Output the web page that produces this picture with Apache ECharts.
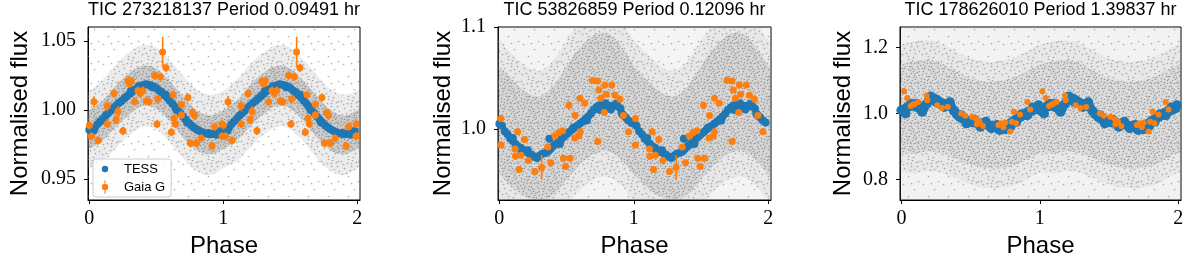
<!DOCTYPE html>
<html><head><meta charset="utf-8">
<script src="https://cdn.jsdelivr.net/npm/echarts@6/dist/echarts.min.js"></script>
<style>html,body{margin:0;padding:0;background:#fff}#c{width:1200px;height:270px}</style>
</head><body><div id="c"></div>
<script>
// ---------- texts & ticks ----------
const titles = ['TIC 273218137 Period 0.09491 hr', 'TIC 53826859 Period 0.12096 hr', 'TIC 178626010 Period 1.39837 hr'];
const xLabel = 'Phase';
const yLabel = 'Normalised flux';
const phaseTicks = [0, 1, 2];
const yTicks1 = [0.95, 1.00, 1.05];
const yTicks2 = [1.0, 1.1];
const yTicks3 = [0.8, 1.0, 1.2];
const yRange1 = [0.935, 1.06];
const yRange2 = [0.93, 1.1];
const yRange3 = [0.737, 1.263];

// ---------- grey cloud envelopes (phase 0..0.9, repeats every 1 in phase) ----------
const greyPhase = [0.0, 0.1, 0.2, 0.3, 0.4, 0.5, 0.6, 0.7, 0.8, 0.9];
const p1GreyInLo  = [0.972, 0.978, 0.988, 0.997, 1.003, 1.001, 0.992, 0.980, 0.971, 0.968];
const p1GreyInHi  = [1.000, 1.007, 1.018, 1.027, 1.032, 1.030, 1.021, 1.010, 1.000, 0.996];
const p1GreyOutLo = [0.958, 0.963, 0.973, 0.982, 0.988, 0.986, 0.977, 0.965, 0.956, 0.953];
const p1GreyOutHi = [1.014, 1.022, 1.033, 1.042, 1.047, 1.045, 1.036, 1.025, 1.015, 1.011];
const p2GreyInLo  = [0.955, 0.942, 0.933, 0.930, 0.935, 0.950, 0.965, 0.975, 0.978, 0.970];
const p2GreyInHi  = [1.062, 1.048, 1.036, 1.032, 1.042, 1.062, 1.080, 1.092, 1.094, 1.082];
const p2GreyOutLo = [0.930, 0.920, 0.910, 0.905, 0.910, 0.925, 0.940, 0.950, 0.953, 0.945];
const p2GreyOutHi = [1.087, 1.073, 1.061, 1.057, 1.067, 1.087, 1.105, 1.117, 1.119, 1.107];
const p3GreyInLo  = [0.880, 0.878, 0.885, 0.878, 0.862, 0.845, 0.835, 0.833, 0.840, 0.858];
const p3GreyInHi  = [1.150, 1.160, 1.162, 1.150, 1.128, 1.108, 1.098, 1.098, 1.108, 1.128];
const p3GreyOutLo = [0.820, 0.818, 0.825, 0.818, 0.802, 0.785, 0.775, 0.773, 0.780, 0.798];
const p3GreyOutHi = [1.210, 1.220, 1.222, 1.210, 1.188, 1.168, 1.158, 1.158, 1.168, 1.188];

// ---------- TESS (phase 0..1, plotted again at phase+1) ----------
const p1TessPhase = [0.00,0.02,0.04,0.06,0.08,0.10,0.12,0.14,0.16,0.18,0.20,0.22,0.24,0.26,0.28,0.30,0.32,0.34,0.36,0.38,
  0.40,0.42,0.44,0.46,0.48,0.50,0.52,0.54,0.56,0.58,0.60,0.62,0.64,0.66,0.68,0.70,0.72,0.74,0.76,0.78,
  0.80,0.82,0.84,0.86,0.88,0.90,0.92,0.94,0.96,0.98, 0.03,0.31,0.37,0.47,0.57,0.65,0.73,0.89,0.95];
const p1TessFlux = [0.9858,0.9862,0.9868,0.9898,0.9918,0.9936,0.9958,0.9976,0.9994,1.0014,
  1.0032,1.0050,1.0066,1.0084,1.0100,1.0116,1.0134,1.0148,1.0160,1.0171,
  1.0180,1.0186,1.0183,1.0177,1.0170,1.0160,1.0142,1.0128,1.0108,1.0090,
  1.0068,1.0046,1.0022,0.9998,0.9976,0.9952,0.9930,0.9908,0.9890,0.9874,
  0.9862,0.9850,0.9840,0.9833,0.9828,0.9825,0.9826,0.9830,0.9838,0.9848,
  0.9850,1.0140,1.0172,1.0165,1.0112,1.0000,0.9910,0.9834,0.9822];

const p2TessPhase = [0.00,0.02,0.04,0.06,0.08,0.10,0.12,0.14,0.16,0.18,0.20,0.22,0.24,0.26,0.28,0.30,0.32,0.34,0.36,0.38,
  0.40,0.42,0.44,0.46,0.48,0.50,0.52,0.54,0.56,0.58,0.60,0.62,0.64,0.66,0.68,0.70,0.72,0.74,0.76,0.78,
  0.80,0.82,0.84,0.86,0.88,0.90,0.92,0.94,0.96,0.98, 0.372,0.10,0.13,0.17,0.21,0.75,0.79,0.83,0.87,0.91,0.45,0.55,0.65];
const p2TessFlux = [1.0050,1.0030,0.9975,0.9945,0.9905,0.9880,0.9850,0.9825,0.9810,0.9790,
  0.9775,0.9760,0.9745,0.9725,0.9712,0.9735,0.9755,0.9762,0.9775,0.9800,
  0.9828,0.9850,0.9872,0.9898,0.9922,0.9945,0.9968,0.9990,1.0012,1.0030,
  1.0052,1.0072,1.0095,1.0120,1.0150,1.0185,1.0210,1.0228,1.0236,1.0225,
  1.0215,1.0222,1.0225,1.0228,1.0222,1.0200,1.0135,1.0110,1.0080,1.0062,
  0.9902,0.9910,0.9810,0.9770,0.9790,1.0185,1.0250,1.0190,1.0245,1.0150,0.9850,1.0010,1.0080];

const p3TessPhase = [0.00,0.02,0.04,0.06,0.08,0.10,0.12,0.14,0.16,0.18,0.20,0.22,0.24,0.26,0.28,0.30,0.32,0.34,0.36,0.38,
  0.40,0.42,0.44,0.46,0.48,0.50,0.52,0.54,0.56,0.58,0.60,0.62,0.64,0.66,0.68,0.70,0.72,0.74,0.76,0.78,
  0.80,0.82,0.84,0.86,0.88,0.90,0.92,0.94,0.96,0.98,
  0.03,0.07,0.11,0.15,0.21,0.25,0.31,0.35,0.43,0.47,0.53,0.57,0.61,0.65,0.69,0.71,0.75,0.79,0.83,0.87,0.91,0.95,0.99];
const p3TessFlux = [1.010,1.012,1.018,1.022,1.024,1.022,1.018,1.012,1.015,1.028,
  1.040,1.046,1.045,1.040,1.034,1.030,1.028,1.026,1.020,1.008,
  0.998,0.990,0.985,0.980,0.977,0.975,0.973,0.972,0.970,0.968,
  0.967,0.966,0.963,0.961,0.959,0.957,0.956,0.960,0.963,0.968,
  0.974,0.980,0.985,0.990,0.995,1.000,1.005,1.008,1.012,1.016,
  1.000,1.030,1.030,1.005,1.052,1.035,1.020,1.034,0.995,0.970,0.980,0.960,0.975,0.955,0.965,0.950,0.952,0.962,0.975,0.998,0.995,1.018,1.025];

// ---------- Gaia G (phase 0..1, plotted again at phase+1) ----------
const p1GaiaPhase = [0.000,0.015,0.035,0.065,0.134,0.134,0.184,0.200,0.214,0.251,0.289,0.300,0.313,0.338,0.363,0.380,0.400,0.425,0.445,0.487,
  0.505,0.510,0.530,0.547,0.572,0.612,0.625,0.632,0.642,0.687,0.687,0.736,0.754,0.770,0.785,0.800,0.835,0.916,0.935,0.990,0.990];
const p1GaiaFlux = [0.989,0.981,1.006,0.978,1.003,0.990,1.012,0.993,0.999,0.985,1.021,1.019,1.021,1.006,1.014,1.012,1.014,1.0065,1.006,1.025,
  0.990,1.008,1.024,1.042,1.0305,0.984,1.011,0.994,0.990,1.004,0.9964,1.009,0.976,0.998,0.996,0.976,0.9796,0.974,0.988,0.981,0.990];
const p1GaiaErr = [0.003,0.003,0.004,0.003,0.004,0.003,0.003,0.003,0.004,0.003,0.003,0.003,0.003,0.003,0.003,0.003,0.003,0.003,0.003,0.003,
  0.003,0.003,0.003,0.011,0.003,0.003,0.003,0.003,0.003,0.003,0.003,0.003,0.003,0.003,0.003,0.003,0.003,0.003,0.003,0.003,0.003];

const p2GaiaPhase = [0.012,0.012,0.117,0.120,0.136,0.147,0.160,0.186,0.216,0.265,0.315,0.360,0.384,0.414,0.440,0.476,0.492,0.525,0.470,0.518,
  0.563,0.560,0.600,0.590,0.600,0.635,0.692,0.730,0.740,0.731,0.755,0.785,0.795,0.836,0.860,0.897,0.780,0.922,0.960];
const p2GaiaFlux = [1.010,0.984,0.980,0.973,0.997,0.960,0.974,0.9895,0.9688,0.958,0.962,0.982,0.9666,0.993,0.996,0.971,0.963,0.971,0.998,1.023,
  1.013,0.991,0.997,0.993,1.030,1.025,1.0475,1.047,1.038,0.9875,1.030,1.043,1.034,1.043,1.033,1.029,1.016,1.013,0.997];
const p2GaiaErr = [0.002,0.002,0.002,0.002,0.003,0.002,0.002,0.002,0.002,0.002,0.012,0.002,0.002,0.002,0.002,0.002,0.002,0.002,0.002,0.004,
  0.002,0.002,0.002,0.002,0.002,0.002,0.002,0.002,0.002,0.002,0.002,0.002,0.002,0.002,0.002,0.002,0.002,0.002,0.002];

const p3GaiaPhase = [0.019,0.043,0.067,0.085,0.096,0.120,0.182,0.187,0.259,0.294,0.335,0.433,0.462,0.510,0.541,0.546,0.565,0.589,0.700,0.720,
  0.737,0.750,0.785,0.797,0.814,0.828,0.857,0.910,0.930];
const p3GaiaFlux = [1.068,1.047,1.023,1.027,1.029,1.035,1.055,1.040,1.025,1.017,1.020,1.000,0.993,0.990,0.983,0.967,0.975,0.962,0.965,0.970,
  0.958,0.972,0.945,0.975,1.005,0.970,0.997,1.035,1.012];
const p3GaiaErr = [0.004,0.004,0.004,0.004,0.004,0.004,0.004,0.004,0.004,0.004,0.004,0.004,0.004,0.004,0.004,0.004,0.004,0.004,0.004,0.004,
  0.004,0.004,0.004,0.004,0.004,0.004,0.004,0.004,0.004];

// ---------- styles: dotted textures for the grey cloud ----------
const BLUE = '#1f77b4', ORANGE = '#ff7f0e';
const TILE_WASH = [[3,4],[14,9],[8,16],[18,1],[11,3]];
const TILE_OUT = [[1,1],[7,3],[12,0],[17,6],[4,8],[10,10],[15,13],[2,14],[8,19],[13,17],[19,11],[6,13],[16,2],[11,6]];
const TILE_IN = [[0,5],[4,2],[9,6],[14,3],[18,8],[3,11],[11,13],[16,17],[1,18],[6,16],[12,8],[19,15],[7,0],[15,19],[10,2],[5,6],[17,12],[13,11],[9,16],[2,8],[8,9],[14,15],[18,3],[4,19]];
function tile(dots, color) {
  const c = document.createElement('canvas'); c.width = 20; c.height = 20;
  const ctx = c.getContext('2d'); ctx.fillStyle = color;
  dots.forEach(d => { ctx.beginPath(); ctx.arc(d[0] + 0.5, d[1] + 0.5, 0.85, 0, Math.PI * 2); ctx.fill(); });
  return { image: c, repeat: 'repeat' };
}
const patWash = tile(TILE_WASH, 'rgba(120,120,120,0.55)');
const patOut = tile(TILE_OUT, 'rgba(120,120,120,0.6)');
const patIn = tile(TILE_IN, 'rgba(110,110,110,0.6)');

function fold(ph, fl) { const out = []; for (let i = 0; i < ph.length; i++) { out.push([ph[i], fl[i]]); out.push([ph[i] + 1, fl[i]]); } return out; }
function foldErr(ph, fl, er) { const out = []; for (let i = 0; i < ph.length; i++) { for (const s of [0, 1]) out.push([ph[i] + s, fl[i] - er[i], fl[i] + er[i]]); } return out; }

function band(gi, lo, hi, pattern, tint) {
  const up = [], dn = [];
  for (const s of [-1, 0, 1, 2]) for (let i = 0; i < greyPhase.length; i++) { up.push([greyPhase[i] + s, hi[i]]); dn.push([greyPhase[i] + s, lo[i]]); }
  return {
    type: 'custom', xAxisIndex: gi, yAxisIndex: gi, clip: true, silent: true, z: 1,
    data: [[0.5, lo[0]]],
    renderItem: function (params, api) {
      const pts = up.map(p => api.coord(p)).concat(dn.slice().reverse().map(p => api.coord(p)));
      return { type: 'group', children: [
        { type: 'polygon', shape: { points: pts, smooth: 0.35 }, style: { fill: tint } },
        { type: 'polygon', shape: { points: pts, smooth: 0.35 }, style: { fill: pattern } }
      ] };
    }
  };
}
function washRect(gi, range, pattern, tint) {
  return {
    type: 'custom', xAxisIndex: gi, yAxisIndex: gi, clip: true, silent: true, z: 1,
    data: [[0.5, range[0]]],
    renderItem: function (params, api) {
      const a = api.coord([-0.5, range[1]]), b = api.coord([2.5, range[0]]);
      const sh = { x: a[0], y: a[1], width: b[0] - a[0], height: b[1] - a[1] };
      return { type: 'group', children: [
        { type: 'rect', shape: sh, style: { fill: tint } },
        { type: 'rect', shape: sh, style: { fill: pattern } }
      ] };
    }
  };
}
function errBars(gi, data) {
  return {
    type: 'custom', xAxisIndex: gi, yAxisIndex: gi, clip: true, silent: true, z: 4, name: 'gaiaErr',
    data: data, encode: { x: 0, y: [1, 2] },
    renderItem: function (params, api) {
      const a = api.coord([api.value(0), api.value(1)]), b = api.coord([api.value(0), api.value(2)]);
      return { type: 'line', shape: { x1: a[0], y1: a[1], x2: b[0], y2: b[1] }, style: { stroke: ORANGE, lineWidth: 1.6 } };
    }
  };
}

const grids = [
  { left: 88, top: 27, width: 272, height: 173 },
  { left: 498, top: 27, width: 273, height: 173 },
  { left: 900, top: 27, width: 281, height: 173 }
];
const yTicks = [yTicks1, yTicks2, yTicks3];
const yRanges = [yRange1, yRange2, yRange3];
const yDec = [2, 1, 1];
const yNameGap = [56, 43, 45];

const serif = "'Liberation Serif', 'DejaVu Serif', serif";
const sans = "'Liberation Sans', Arial, sans-serif";

const option = {
  animation: false,
  backgroundColor: '#fff',
  title: grids.map((g, i) => ({
    text: titles[i], left: g.left + g.width / 2, top: 1, textAlign: 'center', padding: 0,
    textStyle: { fontFamily: sans, fontSize: 18, fontWeight: 'normal', color: '#000' }
  })),
  grid: grids.map((g, i) => Object.assign({ show: true, borderColor: '#000', borderWidth: 1 }, g)),
  xAxis: grids.map((g, i) => ({
    type: 'value', gridIndex: i, min: -0.01, max: 2.02,
    name: xLabel, nameLocation: 'middle', nameGap: 34,
    nameTextStyle: { fontFamily: sans, fontSize: 24, color: '#000' },
    axisLine: { show: true, onZero: false, lineStyle: { color: '#000', width: 1 } },
    axisTick: { show: true, customValues: phaseTicks, length: 4, lineStyle: { color: '#000' } },
    axisLabel: { customValues: phaseTicks, margin: 9, formatter: v => String(v), fontFamily: serif, fontSize: 20, color: '#000' },
    splitLine: { show: false }
  })),
  yAxis: grids.map((g, i) => ({
    type: 'value', gridIndex: i, min: yRanges[i][0], max: yRanges[i][1],
    name: yLabel, nameLocation: 'middle', nameGap: yNameGap[i],
    nameTextStyle: { fontFamily: sans, fontSize: 24, color: '#000' },
    axisLine: { show: true, onZero: false, lineStyle: { color: '#000', width: 1 } },
    axisTick: { show: true, customValues: yTicks[i], length: 4, lineStyle: { color: '#000' } },
    axisLabel: { customValues: yTicks[i], margin: 12, formatter: v => Number(v).toFixed(yDec[i]), fontFamily: serif, fontSize: 20, color: '#000' },
    splitLine: { show: false }
  })),
  legend: {
    left: 93, top: 159, orient: 'vertical', padding: [2, 6, 2, 4], itemGap: 2,
    itemWidth: 28, itemHeight: 16,
    borderColor: '#cccccc', borderWidth: 1, borderRadius: 3, backgroundColor: 'rgba(255,255,255,0.8)',
    textStyle: { fontFamily: sans, fontSize: 13, color: '#000' },
    data: [
      { name: 'TESS', icon: 'path://M0,0L0.01,0M20,20L19.99,20M6,10A4,4 0 1,0 14,10A4,4 0 1,0 6,10Z' },
      { name: 'Gaia G', icon: 'path://M0,0L0.01,0M20,20L19.99,20M9.3,1.5L10.7,1.5L10.7,6.2L9.3,6.2Z M9.3,13.8L10.7,13.8L10.7,18.5L9.3,18.5Z M6,10A4,4 0 1,0 14,10A4,4 0 1,0 6,10Z' }
    ]
  },
  series: [
    washRect(0, yRange1, patWash, 'rgba(0,0,0,0)'),
    band(0, p1GreyOutLo, p1GreyOutHi, patOut, 'rgba(150,150,150,0.18)'),
    band(0, p1GreyInLo, p1GreyInHi, patIn, 'rgba(130,130,130,0.30)'),
    washRect(1, yRange2, patWash, 'rgba(150,150,150,0.10)'),
    band(1, p2GreyOutLo, p2GreyOutHi, patOut, 'rgba(150,150,150,0.12)'),
    band(1, p2GreyInLo, p2GreyInHi, patIn, 'rgba(130,130,130,0.16)'),
    washRect(2, yRange3, patWash, 'rgba(150,150,150,0.12)'),
    band(2, p3GreyOutLo, p3GreyOutHi, patOut, 'rgba(150,150,150,0.10)'),
    band(2, p3GreyInLo, p3GreyInHi, patIn, 'rgba(130,130,130,0.10)'),
    { type: 'scatter', name: 'TESS', xAxisIndex: 0, yAxisIndex: 0, data: fold(p1TessPhase, p1TessFlux), symbolSize: 8, itemStyle: { color: BLUE, opacity: 1 }, z: 3, silent: true },
    { type: 'scatter', name: 'TESS', xAxisIndex: 1, yAxisIndex: 1, data: fold(p2TessPhase, p2TessFlux), symbolSize: 8, itemStyle: { color: BLUE, opacity: 1 }, z: 3, silent: true },
    { type: 'scatter', name: 'TESS', xAxisIndex: 2, yAxisIndex: 2, data: fold(p3TessPhase, p3TessFlux), symbolSize: 10, itemStyle: { color: BLUE, opacity: 1 }, z: 3, silent: true },
    errBars(0, foldErr(p1GaiaPhase, p1GaiaFlux, p1GaiaErr)),
    errBars(1, foldErr(p2GaiaPhase, p2GaiaFlux, p2GaiaErr)),
    errBars(2, foldErr(p3GaiaPhase, p3GaiaFlux, p3GaiaErr)),
    { type: 'scatter', name: 'Gaia G', xAxisIndex: 0, yAxisIndex: 0, data: fold(p1GaiaPhase, p1GaiaFlux), symbolSize: 7, itemStyle: { color: ORANGE, opacity: 1 }, z: 5, silent: true },
    { type: 'scatter', name: 'Gaia G', xAxisIndex: 1, yAxisIndex: 1, data: fold(p2GaiaPhase, p2GaiaFlux), symbolSize: 7, itemStyle: { color: ORANGE, opacity: 1 }, z: 5, silent: true },
    { type: 'scatter', name: 'Gaia G', xAxisIndex: 2, yAxisIndex: 2, data: fold(p3GaiaPhase, p3GaiaFlux), symbolSize: 6, itemStyle: { color: ORANGE, opacity: 1 }, z: 5, silent: true }
  ]
};
const chart = echarts.init(document.getElementById('c'), null, { renderer: 'canvas' });
chart.setOption(option);
</script>
</body></html>
